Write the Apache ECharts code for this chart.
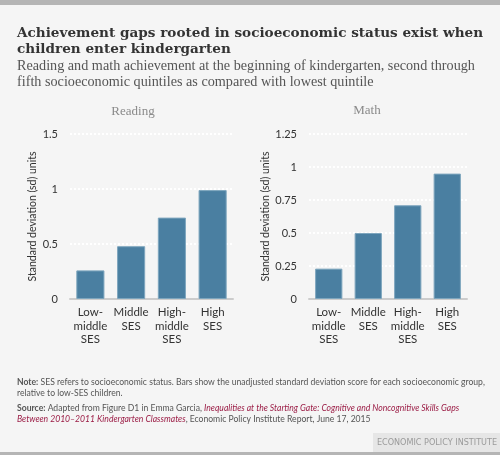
<!DOCTYPE html>
<html><head><meta charset="utf-8">
<script src="https://cdn.jsdelivr.net/npm/echarts@6/dist/echarts.min.js"></script>
<style>html,body{margin:0;padding:0;background:#f5f5f5;}#c{width:500px;height:455px;}</style>
</head><body><div id="c"></div>
<script>
const categories = ['Low-\nmiddle\nSES', 'Middle\nSES', 'High-\nmiddle\nSES', 'High\nSES'];
const readingValues = [0.26, 0.48, 0.74, 0.99];
const mathValues = [0.23, 0.50, 0.71, 0.95];
const readingTicks = {min: 0, max: 1.5, interval: 0.5};
const mathTicks = {min: 0, max: 1.25, interval: 0.25};
const panelTitles = ['Reading', 'Math'];
const yAxisName = 'Standard deviation (sd) units';

const chart = echarts.init(document.getElementById('c'), null, {renderer: 'canvas'});
const sans = 'Lato';
function yAxis(idx, t) {
  return {
    type: 'value', gridIndex: idx, min: t.min, max: t.max, interval: t.interval,
    name: yAxisName, nameLocation: 'middle', nameGap: idx === 0 ? 32 : 34,
    nameTextStyle: {fontFamily: sans, fontSize: 10.5, color: '#333'},
    axisLine: {show: false}, axisTick: {show: false},
    axisLabel: {margin: 12, fontFamily: sans, fontSize: 11, color: '#333'},
    splitLine: {show: true, lineStyle: {color: '#ffffff', width: 2, type: [2, 2]}}
  };
}
function xAxis(idx) {
  return {
    type: 'category', gridIndex: idx, data: categories,
    axisLine: {show: true, lineStyle: {color: '#cccccc', width: 2}},
    axisTick: {show: false},
    axisLabel: {interval: 0, margin: 7, fontFamily: sans, fontSize: 11.5, color: '#333', lineHeight: 13.5}
  };
}
function bars(idx, data) {
  return {
    type: 'bar', xAxisIndex: idx, yAxisIndex: idx, data: data, barCategoryGap: '31%',
    itemStyle: {color: '#4a7fa1', borderColor: '#7ea6be', borderWidth: 1},
    silent: true
  };
}
const noteFont = 8.6;
chart.setOption({
  backgroundColor: '#f5f5f5',
  animation: false,
  grid: [
    {left: 70, right: 267, top: 134, bottom: 156},
    {left: 309, right: 33, top: 134, bottom: 156}
  ],
  xAxis: [xAxis(0), xAxis(1)],
  yAxis: [yAxis(0, readingTicks), yAxis(1, mathTicks)],
  series: [bars(0, readingValues), bars(1, mathValues)],
  graphic: [
    {type: 'rect', shape: {x: 0, y: 0, width: 500, height: 5}, style: {fill: '#b5b5b5'}},
    {type: 'rect', shape: {x: 0, y: 452, width: 500, height: 3}, style: {fill: '#b5b5b5'}},
    {type: 'rect', shape: {x: 373, y: 433, width: 127, height: 19}, style: {fill: '#e6e6e6'}},
    {type: 'text', x: 437, y: 443, style: {text: 'ECONOMIC POLICY INSTITUTE', fill: '#9a9a9a', font: '9px "Liberation Sans Narrow", "DejaVu Sans Condensed", sans-serif', align: 'center', verticalAlign: 'middle'}},
    {type: 'text', x: 17, y: 25, style: {text: 'Achievement gaps rooted in socioeconomic status exist when\nchildren enter kindergarten', fill: '#333', font: 'bold 13.6px "DejaVu Serif"', lineHeight: 16.5}},
    {type: 'text', x: 17, y: 58, style: {text: 'Reading and math achievement at the beginning of kindergarten, second through\nfifth socioeconomic quintiles as compared with lowest quintile', fill: '#555', font: '14.2px "Liberation Serif"', lineHeight: 16}},
    {type: 'text', x: 133, y: 112, style: {text: panelTitles[0], fill: '#8a8a8a', font: '13px "Liberation Serif"', align: 'center', verticalAlign: 'middle'}},
    {type: 'text', x: 367, y: 111, style: {text: panelTitles[1], fill: '#8a8a8a', font: '13px "Liberation Serif"', align: 'center', verticalAlign: 'middle'}},
    {type: 'text', x: 17, y: 376, style: {
      text: '{b|Note:} SES refers to socioeconomic status. Bars show the unadjusted standard deviation score for each socioeconomic group,\nrelative to low-SES children.',
      fill: '#555', font: noteFont + 'px Lato', lineHeight: 11.5,
      rich: {b: {fontWeight: 'bold', fontFamily: 'Lato', fontSize: noteFont, fill: '#555'}}
    }},
    {type: 'text', x: 17, y: 402, style: {
      text: '{b|Source:} Adapted from Figure D1 in Emma Garcia, {i|Inequalities at the Starting Gate: Cognitive and Noncognitive Skills Gaps}\n{i|Between 2010–2011 Kindergarten Classmates}, Economic Policy Institute Report, June 17, 2015',
      fill: '#555', font: noteFont + 'px Lato', lineHeight: 11.5,
      rich: {
        b: {fontWeight: 'bold', fontFamily: 'Lato', fontSize: noteFont, fill: '#555'},
        i: {fontStyle: 'italic', fontFamily: 'Lato', fontSize: noteFont, fill: '#9b1c45'}
      }
    }}
  ]
});
</script></body></html>
